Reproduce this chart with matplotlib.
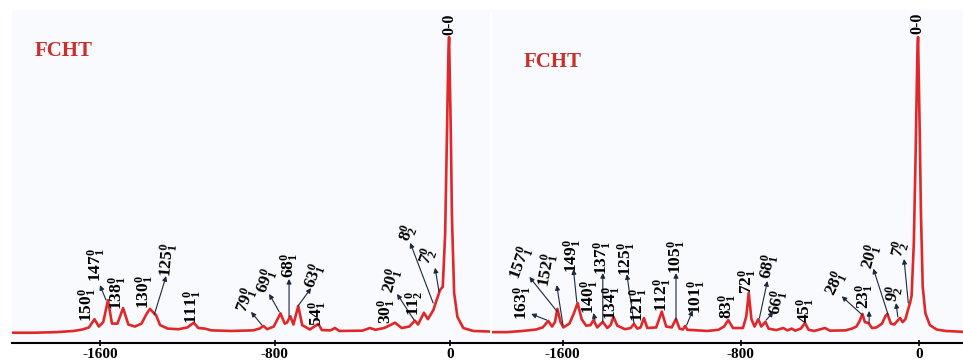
import matplotlib
matplotlib.use("Agg")
import matplotlib.pyplot as plt

plt.rcParams['font.family'] = 'Liberation Serif'
plt.rcParams['font.weight'] = 'bold'
plt.rcParams['mathtext.fontset'] = 'custom'
plt.rcParams['mathtext.rm'] = 'Liberation Serif:bold'
plt.rcParams['mathtext.it'] = 'Liberation Serif:bold'
plt.rcParams['mathtext.bf'] = 'Liberation Serif:bold'
plt.rcParams['axes.unicode_minus'] = False

# spectrum traces (relative wavenumber, normalized intensity)
left_x = [-2000, -1900, -1800, -1720, -1680, -1650, -1625, -1605, -1585, -1563, -1545,
          -1520, -1494, -1470, -1440, -1410, -1385, -1371, -1355, -1344, -1325, -1290,
          -1240, -1200, -1171, -1150, -1120, -1090, -1000, -900, -870, -852, -835, -805,
          -774, -755, -745, -729, -715, -693, -675, -640, -601, -585, -545, -525, -505,
          -400, -365, -340, -300, -250, -220, -185, -159, -145, -118, -100, -75, -60,
          -44, -32, -21, -14, -6, -3, 5, 10, 20, 35, 62, 107, 185]
left_y = [-0.006, -0.006, -0.004, 0.000, 0.005, 0.012, 0.040, 0.015, 0.030, 0.105, 0.025,
          0.025, 0.078, 0.022, 0.015, 0.025, 0.060, 0.075, 0.062, 0.055, 0.020, 0.008,
          0.006, 0.012, 0.028, 0.010, 0.008, 0.002, 0.000, 0.002, 0.008, 0.017, 0.006, 0.015,
          0.060, 0.025, 0.028, 0.050, 0.022, 0.085, 0.020, 0.005, 0.024, 0.003, 0.002, 0.010, 0.000,
          0.001, 0.010, 0.004, 0.010, 0.028, 0.010, 0.015, 0.035, 0.022, 0.062, 0.040, 0.071, 0.105,
          0.140, 0.150, 0.330, 0.620, 0.950, 1.000, 0.670, 0.390, 0.130, 0.048, 0.010, 0.000, -0.002]

right_x = [-1918, -1850, -1780, -1720, -1690, -1665, -1648, -1635, -1624, -1610, -1597,
           -1570, -1550, -1533, -1515, -1495, -1475, -1462, -1445, -1420, -1400, -1385,
           -1372, -1355, -1320, -1295, -1280, -1265, -1250, -1235, -1220, -1180, -1155,
           -1135, -1110, -1091, -1075, -1060, -1050, -1040, -950, -900, -875, -856, -835,
           -790, -775, -764, -752, -738, -721, -708, -689, -675, -640, -609, -590, -571,
           -555, -530, -511, -495, -470, -421, -400, -330, -300, -280, -265, -253, -242,
           -226, -210, -190, -165, -150, -141, -125, -110, -95, -84, -72, -60, -45, -39,
           -32, -22, -14, -6, -3, 4, 10, 18, 30, 50, 80, 120, 199]
right_y = [-0.004, -0.004, 0.000, 0.005, 0.012, 0.034, 0.015, 0.030, 0.075, 0.030, 0.012,
           0.025, 0.060, 0.095, 0.040, 0.018, 0.020, 0.037, 0.012, 0.031, 0.010, 0.020,
           0.048, 0.018, 0.006, 0.010, 0.024, 0.008, 0.012, 0.044, 0.010, 0.012, 0.066,
           0.015, 0.012, 0.041, 0.008, 0.005, 0.017, 0.004, 0.000, 0.004, 0.015, 0.037, 0.010,
           0.010, 0.050, 0.130, 0.040, 0.015, 0.040, 0.015, 0.031, 0.008, 0.003, 0.010, 0.002, 0.008,
           0.001, 0.008, 0.027, 0.004, 0.000, 0.010, 0.001, 0.002, 0.008, 0.015, 0.035, 0.058, 0.030,
           0.027, 0.010, 0.012, 0.025, 0.050, 0.058, 0.025, 0.022, 0.035, 0.044, 0.030, 0.040, 0.080, 0.095,
           0.120, 0.300, 0.600, 0.950, 1.000, 0.700, 0.400, 0.150, 0.060, 0.020, 0.005, 0.000, -0.003]

# band labels: (number, superscript, subscript, text x, text y, rotation, arrow tail, arrow head)
left_labels = [
    ("150", "0", "1", -1655, 0.088, 90, None, None),
    ("147", "0", "1", -1613, 0.224, 90, (-1572, 0.105), (-1600, 0.156)),
    ("138", "0", "1", -1517, 0.129, 90, None, None),
    ("130", "0", "1", -1393, 0.133, 90, None, None),
    ("125", "0", "1", -1288, 0.241, 85, (-1352, 0.054), (-1297, 0.187)),
    ("111", "0", "1", -1173, 0.082, 90, None, None),
    ("79", "0", "1", -926, 0.105, 70, (-859, 0.020), (-909, 0.065)),
    ("69", "0", "1", -835, 0.167, 70, (-780, 0.065), (-826, 0.126)),
    ("68", "0", "1", -731, 0.224, 90, (-735, 0.048), (-735, 0.177)),
    ("63", "0", "1", -616, 0.184, 70, (-694, 0.085), (-634, 0.146)),
    ("54", "0", "1", -602, 0.058, 90, None, None),
    ("30", "0", "1", -287, 0.068, 90, None, None),
    ("20", "0", "1", -260, 0.170, 75, (-163, 0.037), (-241, 0.126)),
    ("11", "0", "2", -159, 0.095, 90, None, None),
    ("8", "0", "2", -191, 0.333, 70, (-76, 0.095), (-181, 0.300)),
    ("7", "0", "2", -99, 0.252, 70, (-49, 0.133), (-67, 0.215)),
]
right_labels = [
    ("163", "0", "1", -1780, 0.095, 90, (-1672, 0.037), (-1742, 0.058)),
    ("157", "0", "1", -1784, 0.231, 70, (-1624, 0.065), (-1750, 0.184)),
    ("152", "0", "1", -1665, 0.207, 80, (-1599, 0.020), (-1627, 0.156)),
    ("149", "0", "1", -1555, 0.255, 90, (-1537, 0.099), (-1552, 0.210)),
    ("140", "0", "1", -1477, 0.116, 90, (-1455, 0.037), (-1462, 0.061)),
    ("137", "0", "1", -1418, 0.248, 90, (-1420, 0.031), (-1420, 0.197)),
    ("134", "0", "1", -1380, 0.095, 90, None, None),
    ("125", "0", "1", -1312, 0.245, 90, (-1280, 0.027), (-1312, 0.193)),
    ("121", "0", "1", -1256, 0.088, 90, None, None),
    ("112", "0", "1", -1148, 0.122, 90, None, None),
    ("105", "0", "1", -1088, 0.252, 90, (-1091, 0.037), (-1091, 0.197)),
    ("101", "0", "1", -998, 0.116, 90, (-1043, 0.020), (-1016, 0.070)),
    ("83", "0", "1", -856, 0.082, 90, None, None),
    ("72", "0", "1", -766, 0.170, 90, None, None),
    ("68", "0", "1", -671, 0.218, 80, (-716, 0.044), (-680, 0.170)),
    ("66", "0", "1", -631, 0.095, 80, (-686, 0.037), (-653, 0.065)),
    ("45", "0", "1", -507, 0.071, 90, None, None),
    ("28", "0", "1", -369, 0.160, 65, (-253, 0.054), (-346, 0.118)),
    ("23", "0", "1", -241, 0.116, 90, (-223, 0.027), (-223, 0.068)),
    ("20", "0", "1", -211, 0.252, 75, (-137, 0.054), (-204, 0.212)),
    ("9", "0", "2", -107, 0.126, 80, (-94, 0.048), (-102, 0.095)),
    ("7", "0", "2", -84, 0.279, 75, (-47, 0.095), (-66, 0.245)),
]
origin_label = "0-0"
ticks = [-1600, -800, 0]

red = '#e0282a'
fig = plt.figure(figsize=(9.63, 3.6), dpi=100)
ax1 = fig.add_axes([0.0125, 0.0472, 0.4963, 0.925])
ax2 = fig.add_axes([0.5109, 0.0472, 0.4891, 0.925])


def draw(ax, xs, ys, labels, xlim, origin_pos, title_pos):
    ax.set_facecolor('#f9fafd')
    ax.plot(xs, ys, color=red, lw=1.9)
    for num, sup, sub, tx, ty, rot, tail, head in labels:
        ax.text(tx, ty, r'$%s^{%s}_{%s}$' % (num, sup, sub), rotation=rot,
                ha='center', va='center', fontsize=12.5, color='black')
        if tail is not None:
            ax.annotate('', xy=head, xytext=tail,
                        arrowprops=dict(arrowstyle='-|>', color='#1c2740', lw=0.8,
                                        mutation_scale=7, shrinkA=0, shrinkB=0))
    ax.text(origin_pos[0], origin_pos[1], origin_label, rotation=90, ha='center',
            va='center', fontsize=11.5, fontweight='bold')
    ax.text(title_pos[0], title_pos[1], 'FCHT', color='#c9302c', fontsize=15,
            fontweight='bold', ha='center', va='center')
    ax.set_xlim(xlim)
    ax.set_ylim(-0.041, 1.092)
    ax.set_xticks(ticks)
    ax.set_xticklabels([str(t) for t in ticks], fontsize=11, fontweight='bold')
    ax.set_yticks([])
    for s in ['top', 'left', 'right']:
        ax.spines[s].set_visible(False)
    ax.spines['bottom'].set_linewidth(1.5)
    ax.tick_params(axis='x', direction='inout', length=5, width=1.2, pad=1)


draw(ax1, left_x, left_y, left_labels, (-2002, 184), (-3, 1.044), (-1764, 0.952))
draw(ax2, right_x, right_y, right_labels, (-1918, 199), (-4, 1.048), (-1644, 0.915))

fig.savefig('out.png', dpi=100, facecolor='white')
